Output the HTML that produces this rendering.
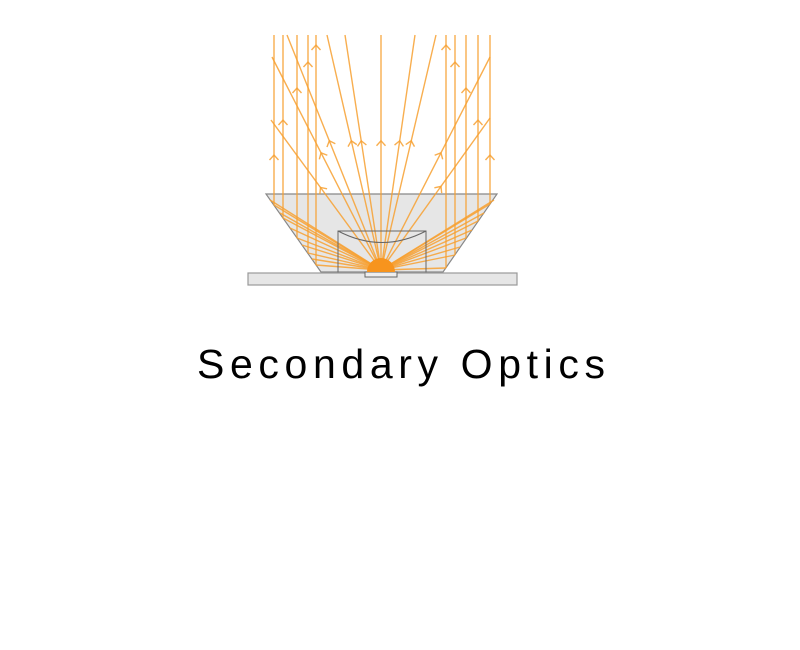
<!DOCTYPE html>
<html><head><meta charset="utf-8"><style>html,body{margin:0;padding:0;background:#fff;width:800px;height:650px;overflow:hidden}</style></head>
<body>
<svg id="s" width="800" height="650" viewBox="0 0 800 650" xmlns="http://www.w3.org/2000/svg">
<polygon points="266,194 497,194 443,272 321,272" fill="#e6e6e6" stroke="#888" stroke-width="1.2"/>
<g id="rays" stroke="#f7a030" stroke-width="1.4" stroke-opacity="0.85" fill="none"></g>
<rect x="338" y="231" width="88" height="42" fill="none" stroke="#666" stroke-width="1"/>
<path d="M338,231 Q382,254 426,231" fill="none" stroke="#666" stroke-width="1"/>
<rect x="248" y="273" width="269" height="12" fill="#e6e6e6" stroke="#999" stroke-width="1.2"/>
<rect x="365" y="272" width="32" height="5" fill="#eee" stroke="#666" stroke-width="1"/>
<path d="M367,272 A14,14 0 0 1 395,272 Z" fill="#f7941d"/>
<text x="197" y="378" textLength="408" lengthAdjust="spacing" font-family="'Liberation Sans',sans-serif" font-size="41" fill="#000">Secondary Optics</text>
</svg>
<script>
var g=document.getElementById('rays'),cx=381,cy=270,h='';
function L(x1,y1,x2,y2){h+='<line x1="'+x1+'" y1="'+y1+'" x2="'+x2+'" y2="'+y2+'"/>';}
function A(x,y,dx,dy){var l=Math.hypot(dx,dy);dx/=l;dy/=l;var px=-dy,py=dx;h+='<polyline points="'+(x-dx*5+px*4.5)+','+(y-dy*5+py*4.5)+' '+x+','+y+' '+(x-dx*5-px*4.5)+','+(y-dy*5-py*4.5)+'"/>';}
[[272,57],[271,120],[287,35],[327,35],[345,35],[381,35],[415,35],[436,35],[490,57],[490,118]].forEach(function(p){L(cx,cy,p[0],p[1]);var t=0.55;A(cx+(p[0]-cx)*t,cy+(p[1]-cy)*t,p[0]-cx,p[1]-cy);});
var lw=[[274,205],[283,218],[297,238],[308,253],[316,265]],rw=[[490,204],[478,221],[466,238],[455,255],[446,268]];
lw.concat(rw).forEach(function(p,i){L(cx,cy,p[0],p[1]);L(p[0],p[1],p[0],35);A(p[0],[155,120,88,62,45,155,120,88,62,45][i],0,-1);});
[[270,200],[280,213],[290,228],[302,245],[312,259],[494,200],[484,213],[472,230],[460,247]].forEach(function(p){L(cx,cy,p[0],p[1]);});
g.innerHTML=h;
</script>
</body></html>
